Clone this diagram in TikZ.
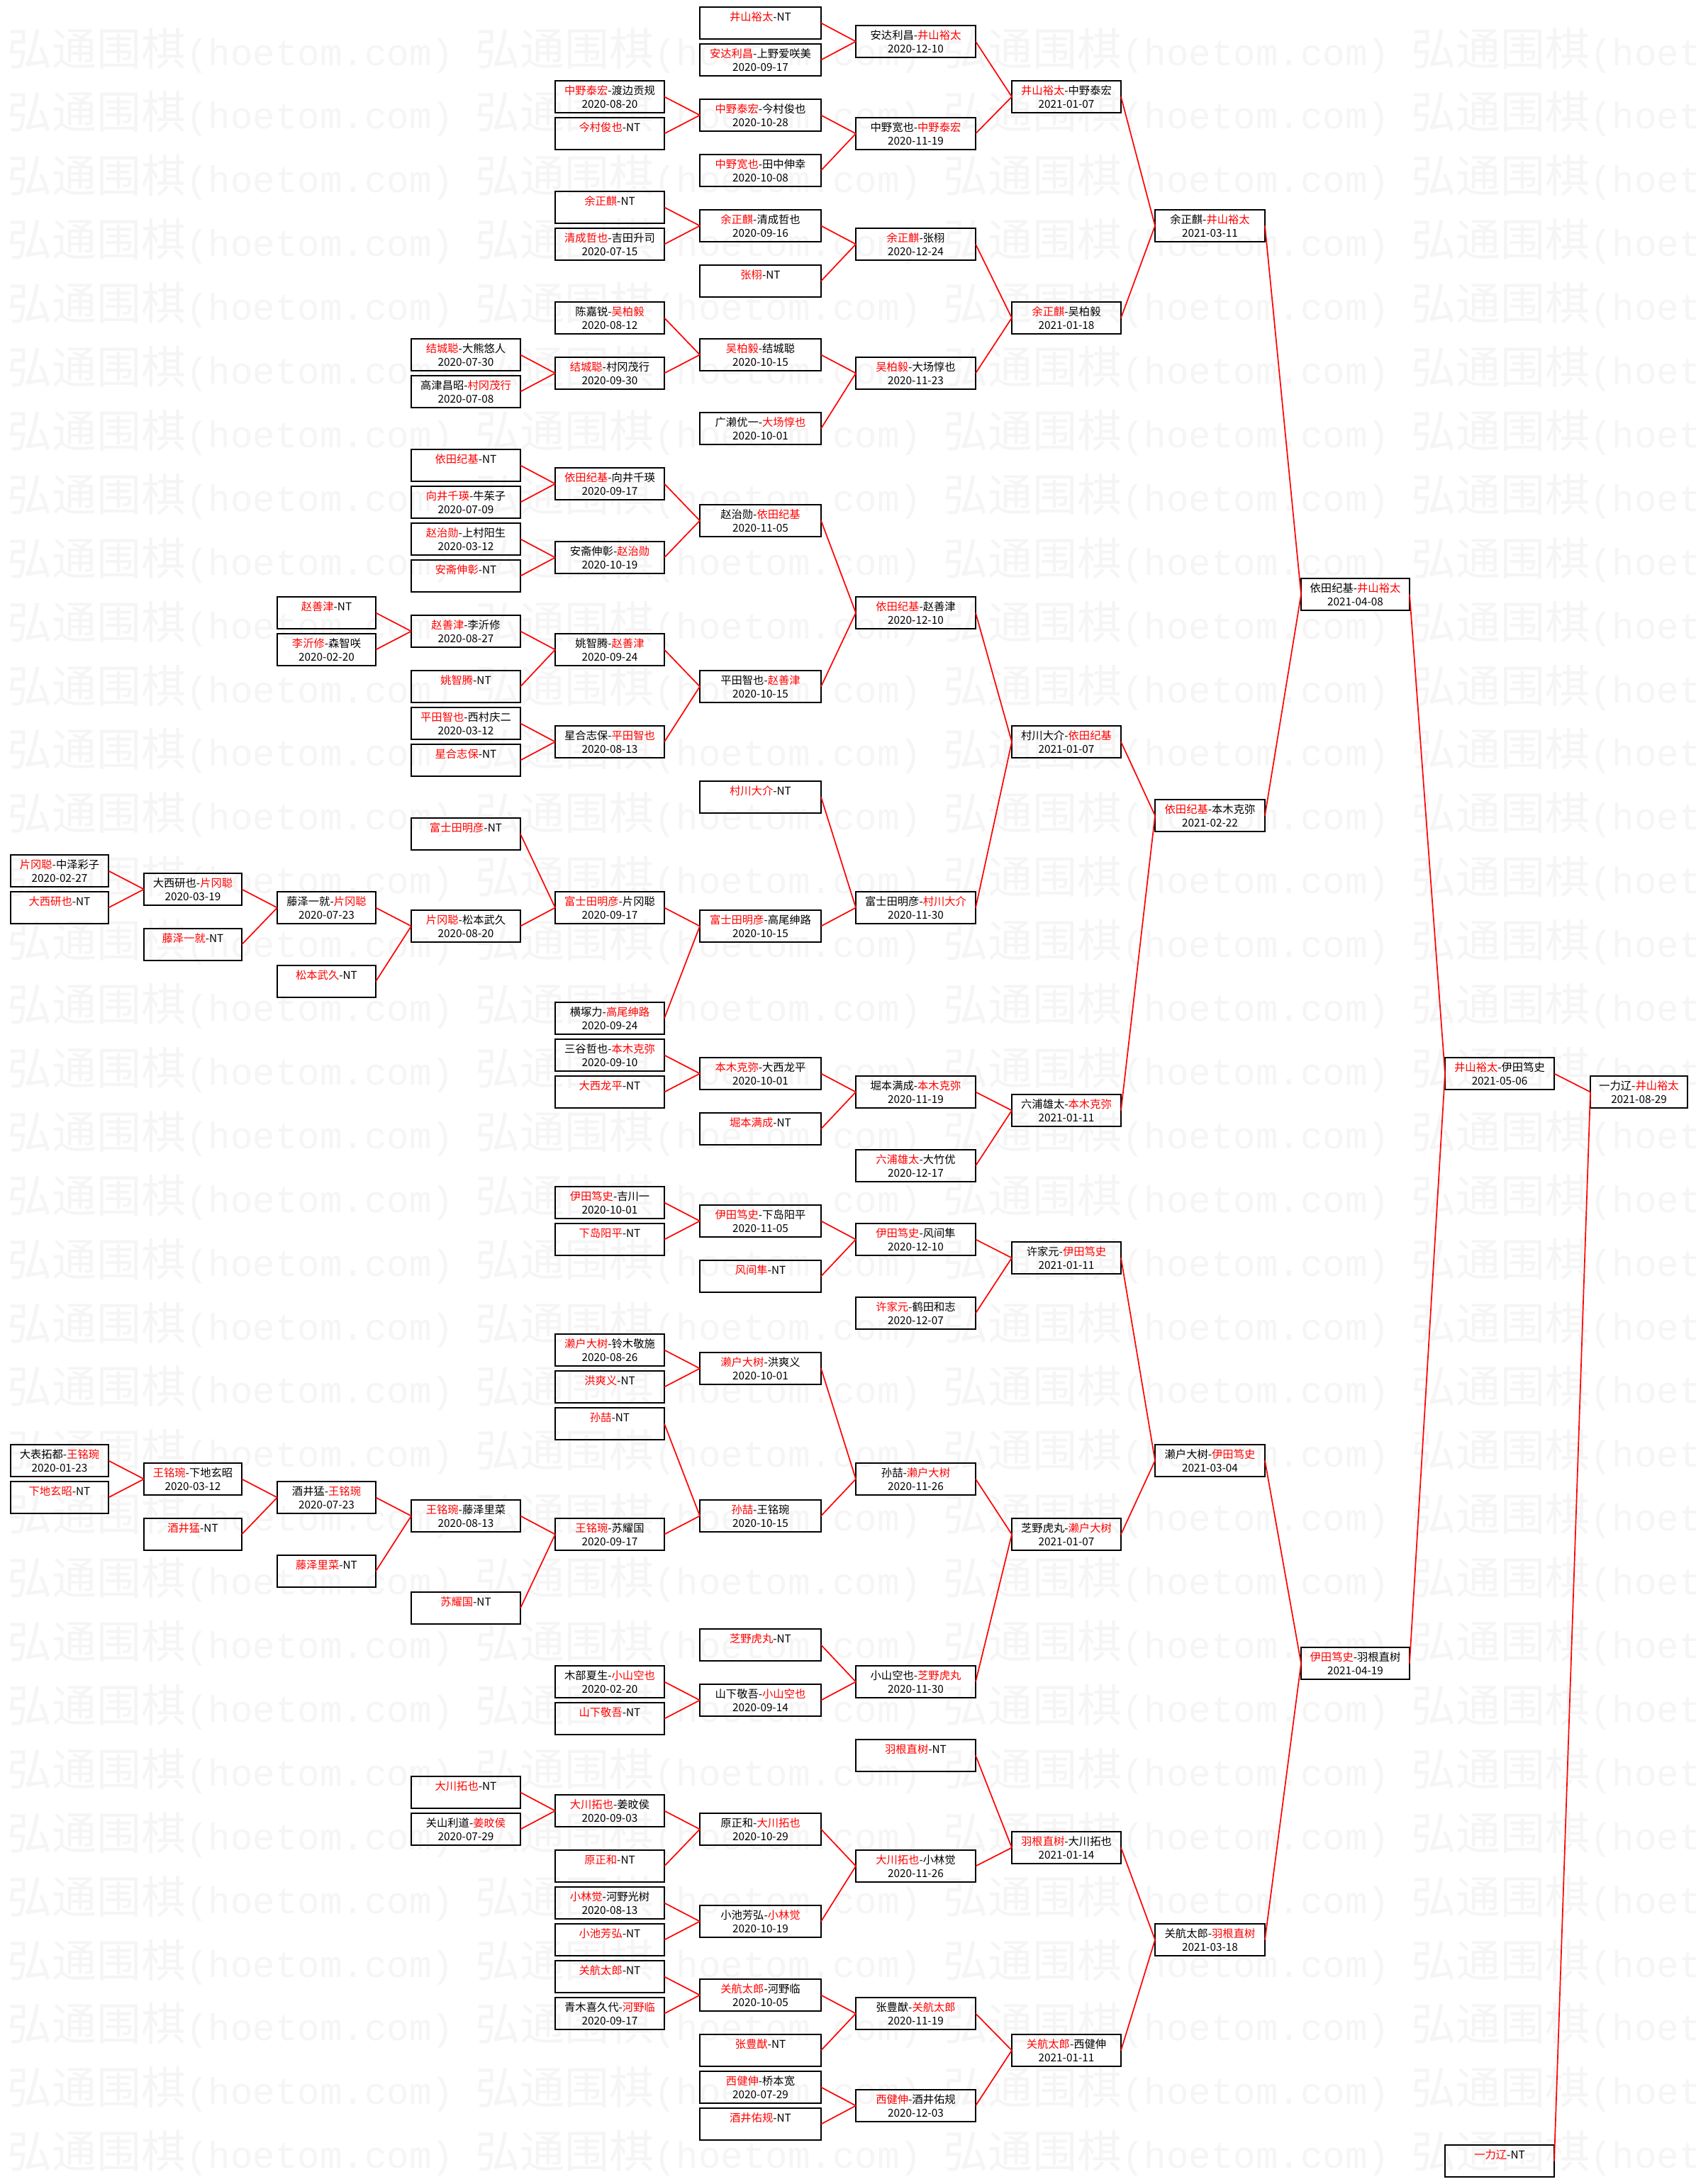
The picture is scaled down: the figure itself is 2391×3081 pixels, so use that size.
\documentclass[tikz,border=0pt]{standalone}
\usepackage{fontspec}
\setmainfont{Noto Sans CJK SC}
\newfontfamily\wmmono{Liberation Mono}
\newcommand\rd[1]{\textcolor{red}{#1}}
\tikzset{
 gbox/.style={draw=black, line width=2pt, minimum height=45pt, inner sep=0pt, outer sep=0pt, rectangle},
 nm/.style={anchor=base, inner sep=0pt, font=\fontsize{15.3}{18}\selectfont},
 conn/.style={draw=red, line width=1.7pt},
 wm/.style={anchor=base west, inner sep=0pt, text=black!4}
}
\newcommand\mkbx[5]{%
 \ifcase#2\relax \def\bxx{15}\def\bxw{138}\or \def\bxx{203}\def\bxw{138}\or \def\bxx{391}\def\bxw{139}\or \def\bxx{580}\def\bxw{154}\or \def\bxx{783}\def\bxw{154}\or \def\bxx{987}\def\bxw{171}\or \def\bxx{1207}\def\bxw{169}\or \def\bxx{1427}\def\bxw{154}\or \def\bxx{1629}\def\bxw{155}\or \def\bxx{1835}\def\bxw{153}\or \def\bxx{2038}\def\bxw{154}\or \def\bxx{2243}\def\bxw{137}\fi
 \node[gbox, minimum width=\bxw pt, anchor=north west] (#1) at (\bxx,{10+26*#3}) {};
 \node[nm] (#1-a) at ([yshift=-19.5pt]#1.north) {#4};
 \if\relax\detokenize{#5}\relax\else \node[nm] (#1-b) at ([yshift=-38pt]#1.north) {#5};\fi
}
\begin{document}
\begin{tikzpicture}[x=1pt,y=-1pt]
\useasboundingbox (0,0) rectangle (2391,3081);
\fill[white] (0,0) rectangle (2391,3081);
% watermark (behind everything)
\begin{scope}
\clip (0,0) rectangle (2391,3081);
\foreach \r in {0,...,33}
 \foreach \m in {0,...,3}
  \node[wm] (wm-\r-\m) at ({10+660*\m},{92+89.9*\r}) {\fontsize{63}{63}\selectfont 弘通围棋{\wmmono\fontsize{52.5}{63}\selectfont (hoetom.com)}};
\end{scope}
% column 0
\mkbx{c0a}{0}{46}{\rd{片冈聪}-中泽彩子}{2020-02-27}
\mkbx{c0b}{0}{48}{\rd{大西研也}-NT}{}
\mkbx{c0c}{0}{78}{大表拓都-\rd{王铭琬}}{2020-01-23}
\mkbx{c0d}{0}{80}{\rd{下地玄昭}-NT}{}
% column 1
\mkbx{c1a}{1}{47}{大西研也-\rd{片冈聪}}{2020-03-19}
\mkbx{c1b}{1}{50}{\rd{藤泽一就}-NT}{}
\mkbx{c1c}{1}{79}{\rd{王铭琬}-下地玄昭}{2020-03-12}
\mkbx{c1d}{1}{82}{\rd{酒井猛}-NT}{}
% column 2
\mkbx{c2a}{2}{32}{\rd{赵善津}-NT}{}
\mkbx{c2b}{2}{34}{\rd{李沂修}-森智咲}{2020-02-20}
\mkbx{c2c}{2}{48}{藤泽一就-\rd{片冈聪}}{2020-07-23}
\mkbx{c2d}{2}{52}{\rd{松本武久}-NT}{}
\mkbx{c2e}{2}{80}{酒井猛-\rd{王铭琬}}{2020-07-23}
\mkbx{c2f}{2}{84}{\rd{藤泽里菜}-NT}{}
% column 3
\mkbx{c3a}{3}{18}{\rd{结城聪}-大熊悠人}{2020-07-30}
\mkbx{c3b}{3}{20}{高津昌昭-\rd{村冈茂行}}{2020-07-08}
\mkbx{c3c}{3}{24}{\rd{依田纪基}-NT}{}
\mkbx{c3d}{3}{26}{\rd{向井千瑛}-牛茱子}{2020-07-09}
\mkbx{c3e}{3}{28}{\rd{赵治勋}-上村阳生}{2020-03-12}
\mkbx{c3f}{3}{30}{\rd{安斋伸彰}-NT}{}
\mkbx{c3g}{3}{33}{\rd{赵善津}-李沂修}{2020-08-27}
\mkbx{c3h}{3}{36}{\rd{姚智腾}-NT}{}
\mkbx{c3i}{3}{38}{\rd{平田智也}-西村庆二}{2020-03-12}
\mkbx{c3j}{3}{40}{\rd{星合志保}-NT}{}
\mkbx{c3k}{3}{44}{\rd{富士田明彦}-NT}{}
\mkbx{c3l}{3}{49}{\rd{片冈聪}-松本武久}{2020-08-20}
\mkbx{c3m}{3}{81}{\rd{王铭琬}-藤泽里菜}{2020-08-13}
\mkbx{c3n}{3}{86}{\rd{苏耀国}-NT}{}
\mkbx{c3o}{3}{96}{\rd{大川拓也}-NT}{}
\mkbx{c3p}{3}{98}{关山利道-\rd{姜旼侯}}{2020-07-29}
% column 4
\mkbx{c4a}{4}{4}{\rd{中野泰宏}-渡边贡规}{2020-08-20}
\mkbx{c4b}{4}{6}{\rd{今村俊也}-NT}{}
\mkbx{c4c}{4}{10}{\rd{余正麒}-NT}{}
\mkbx{c4d}{4}{12}{\rd{清成哲也}-吉田升司}{2020-07-15}
\mkbx{c4e}{4}{16}{陈嘉锐-\rd{吴柏毅}}{2020-08-12}
\mkbx{c4f}{4}{19}{\rd{结城聪}-村冈茂行}{2020-09-30}
\mkbx{c4g}{4}{25}{\rd{依田纪基}-向井千瑛}{2020-09-17}
\mkbx{c4h}{4}{29}{安斋伸彰-\rd{赵治勋}}{2020-10-19}
\mkbx{c4i}{4}{34}{姚智腾-\rd{赵善津}}{2020-09-24}
\mkbx{c4j}{4}{39}{星合志保-\rd{平田智也}}{2020-08-13}
\mkbx{c4k}{4}{48}{\rd{富士田明彦}-片冈聪}{2020-09-17}
\mkbx{c4l}{4}{54}{横塚力-\rd{高尾绅路}}{2020-09-24}
\mkbx{c4m}{4}{56}{三谷哲也-\rd{本木克弥}}{2020-09-10}
\mkbx{c4n}{4}{58}{\rd{大西龙平}-NT}{}
\mkbx{c4o}{4}{64}{\rd{伊田笃史}-吉川一}{2020-10-01}
\mkbx{c4p}{4}{66}{\rd{下岛阳平}-NT}{}
\mkbx{c4q}{4}{72}{\rd{濑户大树}-铃木敬施}{2020-08-26}
\mkbx{c4r}{4}{74}{\rd{洪爽义}-NT}{}
\mkbx{c4s}{4}{76}{\rd{孙喆}-NT}{}
\mkbx{c4t}{4}{82}{\rd{王铭琬}-苏耀国}{2020-09-17}
\mkbx{c4u}{4}{90}{木部夏生-\rd{小山空也}}{2020-02-20}
\mkbx{c4v}{4}{92}{\rd{山下敬吾}-NT}{}
\mkbx{c4w}{4}{97}{\rd{大川拓也}-姜旼侯}{2020-09-03}
\mkbx{c4x}{4}{100}{\rd{原正和}-NT}{}
\mkbx{c4y}{4}{102}{\rd{小林觉}-河野光树}{2020-08-13}
\mkbx{c4z}{4}{104}{\rd{小池芳弘}-NT}{}
\mkbx{c4aa}{4}{106}{\rd{关航太郎}-NT}{}
\mkbx{c4ab}{4}{108}{青木喜久代-\rd{河野临}}{2020-09-17}
% column 5
\mkbx{c5a}{5}{0}{\rd{井山裕太}-NT}{}
\mkbx{c5b}{5}{2}{\rd{安达利昌}-上野爱咲美}{2020-09-17}
\mkbx{c5c}{5}{5}{\rd{中野泰宏}-今村俊也}{2020-10-28}
\mkbx{c5d}{5}{8}{\rd{中野宽也}-田中伸幸}{2020-10-08}
\mkbx{c5e}{5}{11}{\rd{余正麒}-清成哲也}{2020-09-16}
\mkbx{c5f}{5}{14}{\rd{张栩}-NT}{}
\mkbx{c5g}{5}{18}{\rd{吴柏毅}-结城聪}{2020-10-15}
\mkbx{c5h}{5}{22}{广濑优一-\rd{大场惇也}}{2020-10-01}
\mkbx{c5i}{5}{27}{赵治勋-\rd{依田纪基}}{2020-11-05}
\mkbx{c5j}{5}{36}{平田智也-\rd{赵善津}}{2020-10-15}
\mkbx{c5k}{5}{42}{\rd{村川大介}-NT}{}
\mkbx{c5l}{5}{49}{\rd{富士田明彦}-高尾绅路}{2020-10-15}
\mkbx{c5m}{5}{57}{\rd{本木克弥}-大西龙平}{2020-10-01}
\mkbx{c5n}{5}{60}{\rd{堀本满成}-NT}{}
\mkbx{c5o}{5}{65}{\rd{伊田笃史}-下岛阳平}{2020-11-05}
\mkbx{c5p}{5}{68}{\rd{风间隼}-NT}{}
\mkbx{c5q}{5}{73}{\rd{濑户大树}-洪爽义}{2020-10-01}
\mkbx{c5r}{5}{81}{\rd{孙喆}-王铭琬}{2020-10-15}
\mkbx{c5s}{5}{88}{\rd{芝野虎丸}-NT}{}
\mkbx{c5t}{5}{91}{山下敬吾-\rd{小山空也}}{2020-09-14}
\mkbx{c5u}{5}{98}{原正和-\rd{大川拓也}}{2020-10-29}
\mkbx{c5v}{5}{103}{小池芳弘-\rd{小林觉}}{2020-10-19}
\mkbx{c5w}{5}{107}{\rd{关航太郎}-河野临}{2020-10-05}
\mkbx{c5x}{5}{110}{\rd{张豊猷}-NT}{}
\mkbx{c5y}{5}{112}{\rd{西健伸}-桥本宽}{2020-07-29}
\mkbx{c5z}{5}{114}{\rd{酒井佑规}-NT}{}
% column 6
\mkbx{c6a}{6}{1}{安达利昌-\rd{井山裕太}}{2020-12-10}
\mkbx{c6b}{6}{6}{中野宽也-\rd{中野泰宏}}{2020-11-19}
\mkbx{c6c}{6}{12}{\rd{余正麒}-张栩}{2020-12-24}
\mkbx{c6d}{6}{19}{\rd{吴柏毅}-大场惇也}{2020-11-23}
\mkbx{c6e}{6}{32}{\rd{依田纪基}-赵善津}{2020-12-10}
\mkbx{c6f}{6}{48}{富士田明彦-\rd{村川大介}}{2020-11-30}
\mkbx{c6g}{6}{58}{堀本满成-\rd{本木克弥}}{2020-11-19}
\mkbx{c6h}{6}{62}{\rd{六浦雄太}-大竹优}{2020-12-17}
\mkbx{c6i}{6}{66}{\rd{伊田笃史}-风间隼}{2020-12-10}
\mkbx{c6j}{6}{70}{\rd{许家元}-鹤田和志}{2020-12-07}
\mkbx{c6k}{6}{79}{孙喆-\rd{濑户大树}}{2020-11-26}
\mkbx{c6l}{6}{90}{小山空也-\rd{芝野虎丸}}{2020-11-30}
\mkbx{c6m}{6}{94}{\rd{羽根直树}-NT}{}
\mkbx{c6n}{6}{100}{\rd{大川拓也}-小林觉}{2020-11-26}
\mkbx{c6o}{6}{108}{张豊猷-\rd{关航太郎}}{2020-11-19}
\mkbx{c6p}{6}{113}{\rd{西健伸}-酒井佑规}{2020-12-03}
% column 7
\mkbx{c7a}{7}{4}{\rd{井山裕太}-中野泰宏}{2021-01-07}
\mkbx{c7b}{7}{16}{\rd{余正麒}-吴柏毅}{2021-01-18}
\mkbx{c7c}{7}{39}{村川大介-\rd{依田纪基}}{2021-01-07}
\mkbx{c7d}{7}{59}{六浦雄太-\rd{本木克弥}}{2021-01-11}
\mkbx{c7e}{7}{67}{许家元-\rd{伊田笃史}}{2021-01-11}
\mkbx{c7f}{7}{82}{芝野虎丸-\rd{濑户大树}}{2021-01-07}
\mkbx{c7g}{7}{99}{\rd{羽根直树}-大川拓也}{2021-01-14}
\mkbx{c7h}{7}{110}{\rd{关航太郎}-西健伸}{2021-01-11}
% column 8
\mkbx{c8a}{8}{11}{余正麒-\rd{井山裕太}}{2021-03-11}
\mkbx{c8b}{8}{43}{\rd{依田纪基}-本木克弥}{2021-02-22}
\mkbx{c8c}{8}{78}{濑户大树-\rd{伊田笃史}}{2021-03-04}
\mkbx{c8d}{8}{104}{关航太郎-\rd{羽根直树}}{2021-03-18}
% column 9
\mkbx{c9a}{9}{31}{依田纪基-\rd{井山裕太}}{2021-04-08}
\mkbx{c9b}{9}{89}{\rd{伊田笃史}-羽根直树}{2021-04-19}
% column 10
\mkbx{c10a}{10}{57}{\rd{井山裕太}-伊田笃史}{2021-05-06}
\mkbx{c10b}{10}{116}{\rd{一力辽}-NT}{}
% column 11
\mkbx{c11a}{11}{58}{一力辽-\rd{井山裕太}}{2021-08-29}
% connectors
\foreach \c/\p in {c10a/c11a,c10b/c11a,c9a/c10a,c9b/c10a,c8a/c9a,c8b/c9a,c8c/c9b,c8d/c9b,
 c7a/c8a,c7b/c8a,c7c/c8b,c7d/c8b,c7e/c8c,c7f/c8c,c7g/c8d,c7h/c8d,
 c6a/c7a,c6b/c7a,c6c/c7b,c6d/c7b,c6e/c7c,c6f/c7c,c6g/c7d,c6h/c7d,c6i/c7e,c6j/c7e,c6k/c7f,c6l/c7f,c6m/c7g,c6n/c7g,c6o/c7h,c6p/c7h,
 c5a/c6a,c5b/c6a,c5c/c6b,c5d/c6b,c5e/c6c,c5f/c6c,c5g/c6d,c5h/c6d,c5i/c6e,c5j/c6e,c5k/c6f,c5l/c6f,c5m/c6g,c5n/c6g,c5o/c6i,c5p/c6i,c5q/c6k,c5r/c6k,c5s/c6l,c5t/c6l,c5u/c6n,c5v/c6n,c5w/c6o,c5x/c6o,c5y/c6p,c5z/c6p,
 c4a/c5c,c4b/c5c,c4c/c5e,c4d/c5e,c4e/c5g,c4f/c5g,c4g/c5i,c4h/c5i,c4i/c5j,c4j/c5j,c4k/c5l,c4l/c5l,c4m/c5m,c4n/c5m,c4o/c5o,c4p/c5o,c4q/c5q,c4r/c5q,c4s/c5r,c4t/c5r,c4u/c5t,c4v/c5t,c4w/c5u,c4x/c5u,c4y/c5v,c4z/c5v,c4aa/c5w,c4ab/c5w,
 c3a/c4f,c3b/c4f,c3c/c4g,c3d/c4g,c3e/c4h,c3f/c4h,c3g/c4i,c3h/c4i,c3i/c4j,c3j/c4j,c3k/c4k,c3l/c4k,c3m/c4t,c3n/c4t,c3o/c4w,c3p/c4w,
 c2a/c3g,c2b/c3g,c2c/c3l,c2d/c3l,c2e/c3m,c2f/c3m,
 c1a/c2c,c1b/c2c,c1c/c2e,c1d/c2e,
 c0a/c1a,c0b/c1a,c0c/c1c,c0d/c1c}
 \draw[conn] (\c.east) -- (\p.west);
\end{tikzpicture}
\end{document}
